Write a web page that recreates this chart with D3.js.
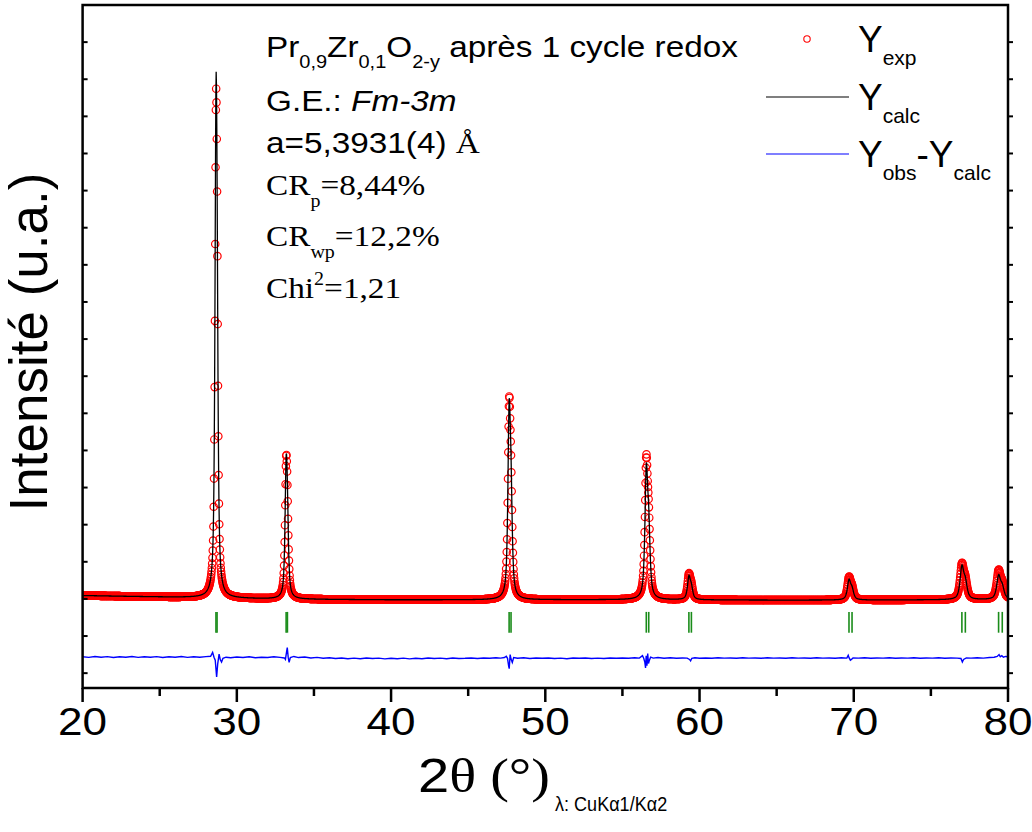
<!DOCTYPE html>
<html><head><meta charset="utf-8">
<script src="https://cdn.jsdelivr.net/npm/d3@7"></script>
<style>body{margin:0;background:#fff} text{white-space:pre}</style>
</head><body><svg id="c" width="1032" height="832"></svg>
<script>
// ---------- data ----------
const hkl        = ["111","200","220","311","222","400","331","420"];
const posKa1     = [28.646, 33.196, 47.654, 56.548, 59.310, 69.690, 77.010, 79.390];
const posKa2     = [28.718, 33.280, 47.778, 56.706, 59.472, 69.888, 77.234, 79.628];
const fwhm       = [0.16, 0.17, 0.19, 0.21, 0.22, 0.25, 0.28, 0.29];
const calcHeight = [10850, 3080, 4580, 3230, 570, 500, 830, 600];
const obsHeight  = [10500, 3050, 4620, 3415, 620, 560, 880, 720];
const bgTheta    = [20, 24, 28, 32, 36, 40, 45, 50, 55, 60, 65, 70, 75, 80];
const bgCounts   = [2090, 2060, 2030, 2000, 1985, 1975, 1975, 1978, 1978, 1972, 1968, 1968, 1975, 1980];
const diffCurve = [[20.0,440],[20.4,425],[20.8,450],[21.2,430],[21.6,445],[22.0,420],[22.4,440],[22.8,430],[23.2,450],[23.6,425],
 [24.0,440],[24.4,430],[24.8,445],[25.2,420],[25.6,440],[26.0,430],[26.4,450],[26.8,425],[27.2,440],[27.6,430],[28.0,445],
 [28.3,455],[28.43,560],[28.52,430],[28.6,350],[28.69,-100],[28.76,250],[28.85,510],[28.93,360],[29.01,300],[29.1,400],
 [29.3,430],[29.6,415],[30.0,435],[30.4,420],[30.8,440],[31.2,415],[31.6,430],[32.0,420],[32.4,440],[32.8,425],
 [33.08,410],[33.15,370],[33.22,560],[33.27,690],[33.33,430],[33.39,290],[33.47,420],[33.7,450],[34.0,420],[34.4,435],
 [34.8,410],[35.2,425],[35.6,400],[36.0,415],[36.4,395],[36.8,410],[37.2,390],[37.6,405],[38.0,390],[38.4,410],[38.8,395],
 [39.2,405],[39.6,385],[40.0,400],[40.4,390],[40.8,405],[41.2,385],[41.6,400],[42.0,390],[42.4,410],[42.8,395],[43.2,405],
 [43.6,390],[44.0,410],[44.4,395],[44.8,400],[45.2,410],[45.6,395],[46.0,410],[46.4,400],[46.8,415],[47.1,405],[47.35,420],
 [47.47,455],[47.55,400],[47.62,200],[47.66,120],[47.72,500],[47.78,380],[47.86,290],[47.95,420],[48.2,400],[48.6,415],
 [49.0,395],[49.4,410],[49.8,400],[50.2,410],[50.6,395],[51.0,405],[51.4,390],[51.8,410],[52.2,400],[52.6,410],[53.0,395],
 [53.4,405],[53.8,395],[54.2,410],[54.6,400],[55.0,410],[55.4,400],[55.8,415],[56.1,405],[56.3,470],[56.38,400],[56.45,300],
 [56.5,140],[56.54,470],[56.59,200],[56.64,530],[56.69,260],[56.75,350],[56.83,430],[57.0,405],[57.3,420],[57.7,400],
 [58.1,415],[58.5,400],[58.9,410],[59.2,405],[59.35,370],[59.42,330],[59.5,400],[59.7,415],[60.0,400],[60.4,410],[60.8,400],
 [61.2,415],[61.6,405],[62.0,410],[62.4,400],[62.8,415],[63.2,405],[63.6,410],[64.0,400],[64.4,415],[64.8,405],[65.2,410],
 [65.6,400],[66.0,415],[66.4,405],[66.8,410],[67.2,400],[67.6,415],[68.0,405],[68.4,410],[68.8,400],[69.2,415],[69.55,405],
 [69.64,480],[69.7,410],[69.78,350],[69.85,370],[69.95,410],[70.3,405],[70.7,415],[71.1,400],[71.5,410],[71.9,405],[72.3,415],
 [72.7,400],[73.1,410],[73.5,405],[73.9,415],[74.3,400],[74.7,410],[75.1,405],[75.5,415],[75.9,400],[76.3,410],[76.7,405],
 [76.95,395],[77.04,300],[77.12,370],[77.3,410],[77.6,405],[78.0,415],[78.4,405],[78.8,420],[79.1,430],[79.3,450],[79.42,500],
 [79.5,440],[79.6,470],[79.7,430],[79.85,450],[80.0,440]];
const braggTickRange = [1090, 1650];
const xMajorTicks = [20, 30, 40, 50, 60, 70, 80];
const xMinorTicks = [25, 35, 45, 55, 65, 75];
const yTicks = d3.range(0, 18000, 1000);
const stepDeg = 0.02;
const eta = 0.7, ka2Ratio = 0.5;

// ---------- layout ----------
const svg = d3.select("#c");
const X0 = 82.6, X1 = 1008, YT = 5, YB = 688;
const x = d3.scaleLinear().domain([20, 80]).range([X0, X1]);
const y = d3.scaleLinear().domain([-400, 18000]).range([YB, YT]);
const SANS = "'Liberation Sans', Arial, sans-serif";
const SERIF = "'Liberation Serif', 'Times New Roman', serif";

// ---------- Rietveld-style profile from the read peak table ----------
const bg = d3.scaleLinear().domain(bgTheta).range(bgCounts);
function pv(d, w) {
  const r = 2 * d / w;
  return eta / (1 + r * r) + (1 - eta) * Math.exp(-Math.LN2 * r * r);
}
function profile(t, H) {
  let v = bg(t);
  for (let i = 0; i < posKa1.length; i++) {
    v += H[i] * (pv(t - posKa1[i], fwhm[i]) + ka2Ratio * pv(t - posKa2[i], fwhm[i]));
  }
  return v;
}
const grid = d3.range(20, 80 + 1e-9, stepDeg);
const obs = grid.map(t => [t, profile(t, obsHeight)]);
const calc = grid.map(t => [t, profile(t, calcHeight)]);

svg.append("defs").append("clipPath").attr("id", "clip")
  .append("rect").attr("x", X0).attr("y", YT).attr("width", X1 - X0).attr("height", YB - YT);
const plot = svg.append("g").attr("clip-path", "url(#clip)");

// observed circles
plot.append("g").selectAll("circle").data(obs).join("circle")
  .attr("cx", d => x(d[0])).attr("cy", d => y(d[1])).attr("r", 3.7)
  .attr("fill", "none").attr("stroke", "#ff0000").attr("stroke-width", 1.2);
// calculated line
plot.append("path").datum(calc)
  .attr("d", d3.line().x(d => x(d[0])).y(d => y(d[1])))
  .attr("fill", "none").attr("stroke", "#000").attr("stroke-width", 1.3);
// bragg positions
const bragg = posKa1.concat(posKa2);
plot.append("g").selectAll("line").data(bragg).join("line")
  .attr("x1", d => x(d)).attr("x2", d => x(d))
  .attr("y1", y(braggTickRange[0])).attr("y2", y(braggTickRange[1]))
  .attr("stroke", "#1a8c1a").attr("stroke-width", 1.6);
// difference
plot.append("path").datum(diffCurve)
  .attr("d", d3.line().x(d => x(d[0])).y(d => y(d[1])))
  .attr("fill", "none").attr("stroke", "#0000ff").attr("stroke-width", 1.4);

// ---------- axes ----------
const ax = svg.append("g").attr("stroke", "#000");
ax.append("rect").attr("x", X0).attr("y", YT).attr("width", X1 - X0).attr("height", YB - YT)
  .attr("fill", "none").attr("stroke-width", 2.5);
ax.selectAll(".xmaj").data(xMajorTicks).join("line")
  .attr("x1", d => x(d)).attr("x2", d => x(d)).attr("y1", YB).attr("y2", YB + 14).attr("stroke-width", 2.5);
ax.selectAll(".xmin").data(xMinorTicks).join("line").attr("class", "xmin")
  .attr("x1", d => x(d)).attr("x2", d => x(d)).attr("y1", YB).attr("y2", YB + 8).attr("stroke-width", 2.5);
ax.selectAll(".yl").data(yTicks).join("line").attr("class", "yl")
  .attr("x1", X0).attr("x2", X0 + 5).attr("y1", d => y(d)).attr("y2", d => y(d)).attr("stroke-width", 2);
ax.selectAll(".yr").data(yTicks).join("line").attr("class", "yr")
  .attr("x1", X1).attr("x2", X1 + 5).attr("y1", d => y(d)).attr("y2", d => y(d)).attr("stroke-width", 2);

function rich(px, py, sx, parts, anchor, extra) {
  const t = svg.append("text")
    .attr("transform", `translate(${px},${py}) scale(${sx},1)` + (extra || ""))
    .attr("text-anchor", anchor || "start").attr("fill", "#000");
  let prev = 0;
  parts.forEach(p => {
    const sh = p.sh || 0;
    t.append("tspan").attr("dy", sh - prev).attr("font-family", p.f || SANS)
      .attr("font-size", p.s).attr("font-style", p.i ? "italic" : null).text(p.t);
    prev = sh;
  });
  return t;
}
xMajorTicks.forEach(v => rich(x(v), 735, 1.13, [{t: String(v), s: 39}], "middle"));

// axis titles
rich(47, 342, 1, [{t: "Intensité (u.a.)", s: 53}], "middle", " rotate(-90)");
rich(418, 792, 1.17, [{t: "2", s: 48}, {t: "θ (°)", s: 48, f: SERIF}]);
rich(555, 811, 0.86, [{t: "λ: CuKα1/Kα2", s: 21}]);

// ---------- annotation ----------
const M = 30, S = 18, SA = 1.11;
rich(266, 57, SA, [
  {t: "Pr", s: M}, {t: "0,9", s: S, sh: 11}, {t: "Zr", s: M}, {t: "0,1", s: S, sh: 11},
  {t: "O", s: M}, {t: "2-y", s: S, sh: 11}, {t: " après 1 cycle redox", s: M}
]);
rich(266, 111, SA, [{t: "G.E.: ", s: M}, {t: "Fm-3m", s: M, i: true}]);
rich(266, 153, SA, [{t: "a=5,3931(4) ", s: M}, {t: "Å", s: M, f: SERIF}]);
rich(266, 195, SA, [{t: "CR", s: M, f: SERIF}, {t: "p", s: S, f: SERIF, sh: 12}, {t: "=8,44%", s: M, f: SERIF}]);
rich(266, 246, SA, [{t: "CR", s: M, f: SERIF}, {t: "wp", s: S, f: SERIF, sh: 12}, {t: "=12,2%", s: M, f: SERIF}]);
rich(266, 298, SA, [{t: "Chi", s: M, f: SERIF}, {t: "2", s: S, f: SERIF, sh: -13}, {t: "=1,21", s: M, f: SERIF}]);

// ---------- legend ----------
svg.append("circle").attr("cx", 807).attr("cy", 39).attr("r", 3.2)
  .attr("fill", "none").attr("stroke", "#ff0000").attr("stroke-width", 1.1);
svg.append("line").attr("x1", 766).attr("x2", 849).attr("y1", 97).attr("y2", 97)
  .attr("stroke", "#000").attr("stroke-width", 1.2);
svg.append("line").attr("x1", 766).attr("x2", 849).attr("y1", 154).attr("y2", 154)
  .attr("stroke", "#0000ff").attr("stroke-width", 1.2);
rich(858, 52, 1, [{t: "Y", s: 37}, {t: "exp", s: 21, sh: 13}]);
rich(858, 110, 1, [{t: "Y", s: 37}, {t: "calc", s: 21, sh: 13}]);
rich(858, 167, 1, [{t: "Y", s: 37}, {t: "obs", s: 21, sh: 13}, {t: "-Y", s: 37}, {t: "calc", s: 21, sh: 13}]);
</script></body></html>
